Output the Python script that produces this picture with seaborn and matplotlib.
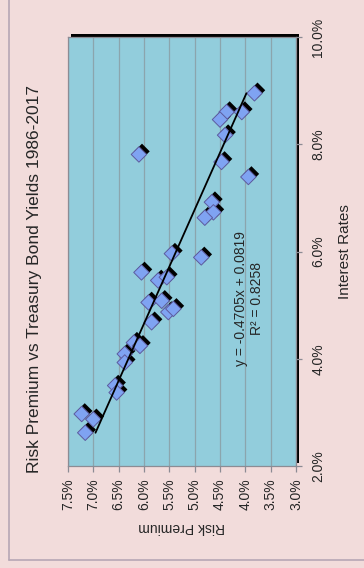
import matplotlib
matplotlib.use("Agg")
import matplotlib.pyplot as plt
import matplotlib.patheffects as pe
from matplotlib.ticker import PercentFormatter, FixedLocator
from matplotlib.lines import Line2D
import numpy as np
import seaborn as sns

# Treasury bond yield (interest rate) and the matching equity risk premium, one pair per year
interest_rate = [0.0895, 0.0860, 0.0860, 0.0846, 0.0817, 0.0781, 0.0767, 0.0739,
                 0.0692, 0.0673, 0.0663,
                 0.0596, 0.0589, 0.0561, 0.0546, 0.0552, 0.0505, 0.0508, 0.0487,
                 0.0493, 0.0468,
                 0.0430, 0.0424, 0.0409, 0.0393, 0.0350, 0.0337, 0.0297, 0.0287, 0.0262]
risk_premium = [0.0382, 0.0407, 0.0437, 0.0450, 0.0440, 0.0610, 0.0447, 0.0394,
                0.0466, 0.0463, 0.0480,
                0.0545, 0.0487, 0.0605, 0.0572, 0.0555, 0.0591, 0.0565, 0.0552,
                0.0542, 0.0585,
                0.0620, 0.0608, 0.0638, 0.0638, 0.0657, 0.0654, 0.0723, 0.0700, 0.0716]

# Linear trend of risk premium on interest rate
trend_slope = -0.4705
trend_intercept = 0.0819
trend_r2 = 0.8258

premium_ticks = [0.030, 0.035, 0.040, 0.045, 0.050, 0.055, 0.060, 0.065, 0.070, 0.075]
rate_ticks = [0.02, 0.04, 0.06, 0.08, 0.10]

title_text = "Risk Premium vs Treasury Bond Yields 1986-2017"
premium_label = "Risk Premium"
rate_label = "Interest Rates"

sns.set_theme(style="white")
plt.rcParams["font.family"] = ["Liberation Sans", "DejaVu Sans"]

W, H = 364, 568
fig = plt.figure(figsize=(W / 100, H / 100), dpi=100)
fig.patch.set_facecolor("#f2dcdb")

# chart-area border (left and bottom edges)
fig.add_artist(Line2D([9 / W, 9 / W], [1.0, 1 - 560 / H], color="#b7a7b5", lw=1.2))
fig.add_artist(Line2D([9 / W, 1.0], [1 - 560 / H, 1 - 560 / H], color="#b7a7b5", lw=1.2))

left, right, top, bottom = 68, 296, 37, 466
ax = fig.add_axes([left / W, 1 - bottom / H, (right - left) / W, (bottom - top) / H])
ax.set_facecolor("#92cddc")
ax.patch.set_path_effects([pe.SimplePatchShadow(offset=(2.3, 2.3), shadow_rgbFace="black", alpha=1.0),
                           pe.Normal()])

# risk premium runs horizontally (high to low), interest rate vertically
ax.set_xlim(0.075, 0.030)
ax.set_ylim(0.02, 0.10)

ax.xaxis.set_major_locator(FixedLocator(premium_ticks))
ax.yaxis.set_major_locator(FixedLocator(rate_ticks))
ax.xaxis.set_major_formatter(PercentFormatter(xmax=1, decimals=1))
ax.yaxis.set_major_formatter(PercentFormatter(xmax=1, decimals=1))
ax.yaxis.tick_right()
ax.yaxis.set_label_position("right")

ax.grid(axis="x", color="#8ba5ad", lw=0.9)
ax.grid(axis="y", visible=False)
ax.set_axisbelow(True)

for s in ax.spines.values():
    s.set_color("#8c8c94")
    s.set_linewidth(0.9)

ax.tick_params(axis="x", which="major", direction="out", length=4, width=0.9, color="#8c8c94",
               labelsize=10, labelcolor="#262626", pad=5, bottom=True, labelrotation=90)
ax.tick_params(axis="y", which="major", direction="out", length=4, width=0.9, color="#8c8c94",
               labelsize=10, labelcolor="#262626", pad=7, right=True, left=False,
               labelright=True, labelleft=False, labelrotation=90)
for lab in ax.get_yticklabels():
    lab.set_verticalalignment("center")

# trend line over the observed range of interest rates
rate_span = np.array([min(interest_rate), max(interest_rate)])
premium_fit = trend_slope * rate_span + trend_intercept
ax.plot(premium_fit, rate_span, color="black", lw=1.3, zorder=4)

sns.scatterplot(x=risk_premium, y=interest_rate, marker="D", s=62, color="#7fa3f2",
                edgecolor="#5d5b9e", linewidth=0.7, ax=ax, zorder=3, legend=False)
for coll in ax.collections:
    coll.set_path_effects([pe.SimplePatchShadow(offset=(2.2, 2.2), shadow_rgbFace="black", alpha=1.0),
                           pe.Normal()])

ax.text(0.0393, 0.0512,
        f"y = {trend_slope:.4f}x + {trend_intercept:.4f}\nR\u00b2 = {trend_r2:.4f}",
        rotation=90, ha="center", va="center", multialignment="center",
        fontsize=10, color="#262626", linespacing=1.25, zorder=5)

ax.set_xlabel(premium_label, rotation=180, fontsize=10, color="#262626", labelpad=7)
ax.set_ylabel(rate_label, rotation=90, fontsize=11, color="#262626", labelpad=9)

fig.text(35 / W, 1 - 279 / H, title_text, rotation=90, ha="center", va="center",
         fontsize=12.5, color="#262626")

fig.savefig("out.png", dpi=100, facecolor=fig.get_facecolor())
